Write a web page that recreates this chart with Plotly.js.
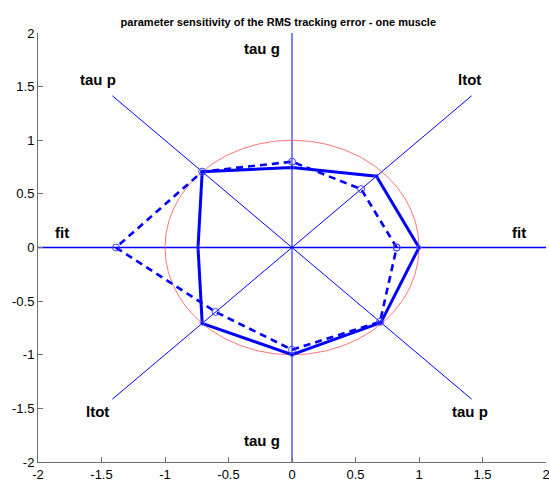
<!DOCTYPE html>
<html><head><meta charset="utf-8">
<script src="https://cdn.plot.ly/plotly-3.0.1.min.js"></script>
<style>html,body{margin:0;padding:0;background:#fff}#c{width:549px;height:482px}</style>
</head><body><div id="c"></div>
<script>
// spoke directions (degrees) and their labels
const angles = [0, 45, 90, 135, 180, 225, 270, 315];
const spokeLabels = ["fit", "ltot", "tau g", "tau p", "fit", "ltot", "tau g", "tau p"];
const spokeLength = 2;
// label positions (data units)
const labelX = [1.79, 1.40, -0.24, -1.53, -1.81, -1.53, -0.24, 1.40];
const labelY = [0.14, 1.57, 1.86, 1.57, 0.14, -1.53, -1.80, -1.53];
// series radii per direction
const solidR  = [1.00, 0.94, 0.745, 1.00, 0.74, 1.00, 1.00, 0.99];
const dashedR = [0.824, 0.77, 0.80, 1.00, 1.386, 0.85, 0.953, 0.98];
const refRadius = 1;
const xTicks = [-2, -1.5, -1, -0.5, 0, 0.5, 1, 1.5, 2];
const yTicks = [-2, -1.5, -1, -0.5, 0, 0.5, 1, 1.5, 2];

const rad = d => d * Math.PI / 180;
const traces = [];
// spokes
angles.forEach(a => {
  const x1 = Math.round(spokeLength * Math.cos(rad(a)) * 1e9) / 1e9;
  const y1 = Math.round(spokeLength * Math.sin(rad(a)) * 1e9) / 1e9;
  traces.push({x: [0, x1], y: [0, y1],
    mode: 'lines', line: {color: '#0000ff', width: (a % 180 === 0) ? 1.3 : 1}, hoverinfo: 'skip', showlegend: false});
});
// reference circle
const cx = [], cy = [];
for (let i = 0; i <= 360; i++) { cx.push(refRadius * Math.cos(rad(i))); cy.push(refRadius * Math.sin(rad(i))); }
traces.push({x: cx, y: cy, mode: 'lines', line: {color: '#ff5050', width: 0.8}, showlegend: false});
// polygons
function poly(r) {
  const x = [], y = [];
  angles.concat([angles[0]]).forEach((a, i) => { const rr = r[i % r.length]; x.push(rr * Math.cos(rad(a))); y.push(rr * Math.sin(rad(a))); });
  return {x, y};
}
const s = poly(solidR), d = poly(dashedR);
traces.push({x: s.x, y: s.y, mode: 'lines+markers', line: {color: '#0000ff', width: 3},
  marker: {symbol: 'circle-open', size: 4, color: '#6060ff', line: {width: 0.8}}, showlegend: false});
traces.push({x: d.x, y: d.y, mode: 'lines+markers', line: {color: '#0000ff', width: 2.6, dash: '7px,5px'},
  marker: {symbol: 'circle-open', size: 7, color: '#4040ff', line: {width: 1}}, showlegend: false});

const annotations = spokeLabels.map((t, i) => ({x: labelX[i], y: labelY[i], text: t, showarrow: false,
  xanchor: 'center', yanchor: 'middle', font: {family: 'Liberation Sans, Arial, sans-serif', size: 15, color: '#000', weight: 'bold'}}));

const axisCommon = {showgrid: false, zeroline: false, showline: true, linecolor: '#6e6e6e', linewidth: 1,
  ticks: 'inside', ticklen: 5, tickcolor: '#6e6e6e', mirror: false, ticklabeloverflow: 'allow',
  tickfont: {family: 'Liberation Sans, Arial, sans-serif', size: 13, color: '#000'}};

const layout = {
  width: 549, height: 482,
  margin: {l: 38, r: 3, t: 33, b: 20},
  paper_bgcolor: '#fff', plot_bgcolor: '#fff',
  title: {text: '<b>parameter sensitivity of the RMS tracking error - one muscle</b>', xref: 'container', x: 0.507, y: 0.963,
    font: {family: 'Liberation Sans, Arial, sans-serif', size: 11, color: '#000'}},
  xaxis: Object.assign({}, axisCommon, {range: [-2, 2], tickvals: xTicks, ticktext: xTicks.map(String)}),
  yaxis: Object.assign({}, axisCommon, {range: [-2, 2], tickvals: yTicks, ticktext: yTicks.map(String)}),
  annotations: annotations,
  showlegend: false
};
Plotly.newPlot('c', traces, layout, {staticPlot: true, displayModeBar: false});
</script></body></html>
